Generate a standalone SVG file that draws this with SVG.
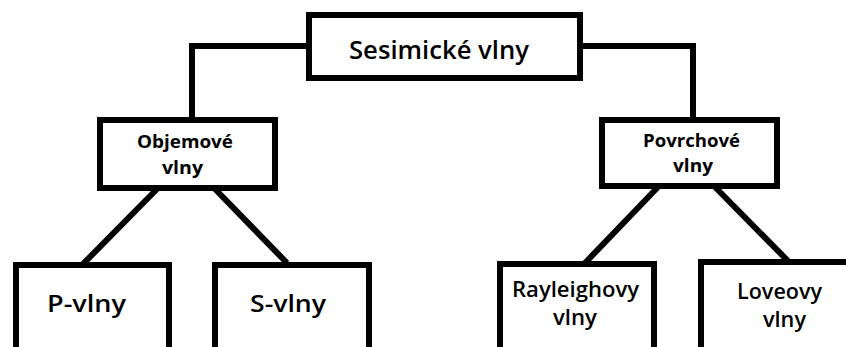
<svg xmlns="http://www.w3.org/2000/svg" width="846" height="347" viewBox="0 0 846 347">
<style>
.box{fill:#fff;stroke:#000;stroke-width:6}
.con{fill:none;stroke:#000;stroke-width:6}
text{font-family:"Open Sans","Liberation Sans",sans-serif;fill:#000;font-weight:600}
.big{font-size:26px}
.mid{font-size:24px}
.mid2{font-size:22px}
.sm{font-size:17px;font-weight:bold}
</style>
<rect width="846" height="347" fill="#fff"/>
<g id="connectors">
<polyline class="con" points="309,46 192,46 192,118"/>
<polyline class="con" points="580,46 693,46 693,118"/>
<line class="con" x1="157" y1="189" x2="83" y2="264"/>
<line class="con" x1="215" y1="189" x2="287" y2="263"/>
<line class="con" x1="658" y1="187" x2="585" y2="263"/>
<line class="con" x1="715" y1="187" x2="788" y2="261"/>
</g>
<g id="sesimicke">
<rect class="box" x="309" y="15" width="271" height="63"/>
<text class="big" x="349" y="59" textLength="180" lengthAdjust="spacingAndGlyphs">Sesimické vlny</text>
</g>
<g id="objemove">
<rect class="box" x="100" y="120" width="175" height="68"/>
<text class="sm" x="137" y="148" textLength="96" lengthAdjust="spacingAndGlyphs">Objemové</text>
<text class="sm" x="162" y="174" textLength="41" lengthAdjust="spacingAndGlyphs">vlny</text>
</g>
<g id="povrchove">
<rect class="box" x="602" y="120" width="175" height="66"/>
<text class="sm" x="643" y="147" textLength="97" lengthAdjust="spacingAndGlyphs">Povrchové</text>
<text class="sm" x="673" y="172" textLength="40" lengthAdjust="spacingAndGlyphs">vlny</text>
</g>
<g id="p-vlny">
<rect class="box" x="16" y="265" width="153" height="110"/>
<text class="mid" x="47" y="312" textLength="79" lengthAdjust="spacingAndGlyphs">P-vlny</text>
</g>
<g id="s-vlny">
<rect class="box" x="215" y="265" width="154" height="110"/>
<text class="mid" x="250" y="312" textLength="76" lengthAdjust="spacingAndGlyphs">S-vlny</text>
</g>
<g id="rayleighovy">
<rect class="box" x="500" y="264" width="154" height="110"/>
<text class="mid2" x="512" y="297" textLength="127" lengthAdjust="spacingAndGlyphs">Rayleighovy</text>
<text class="mid2" x="553" y="325" textLength="44" lengthAdjust="spacingAndGlyphs">vlny</text>
</g>
<g id="loveovy">
<rect class="box" x="701" y="262" width="200" height="110"/>
<text class="mid2" x="737" y="299" textLength="85" lengthAdjust="spacingAndGlyphs">Loveovy</text>
<text class="mid2" x="763" y="327" textLength="43" lengthAdjust="spacingAndGlyphs">vlny</text>
</g>
</svg>
